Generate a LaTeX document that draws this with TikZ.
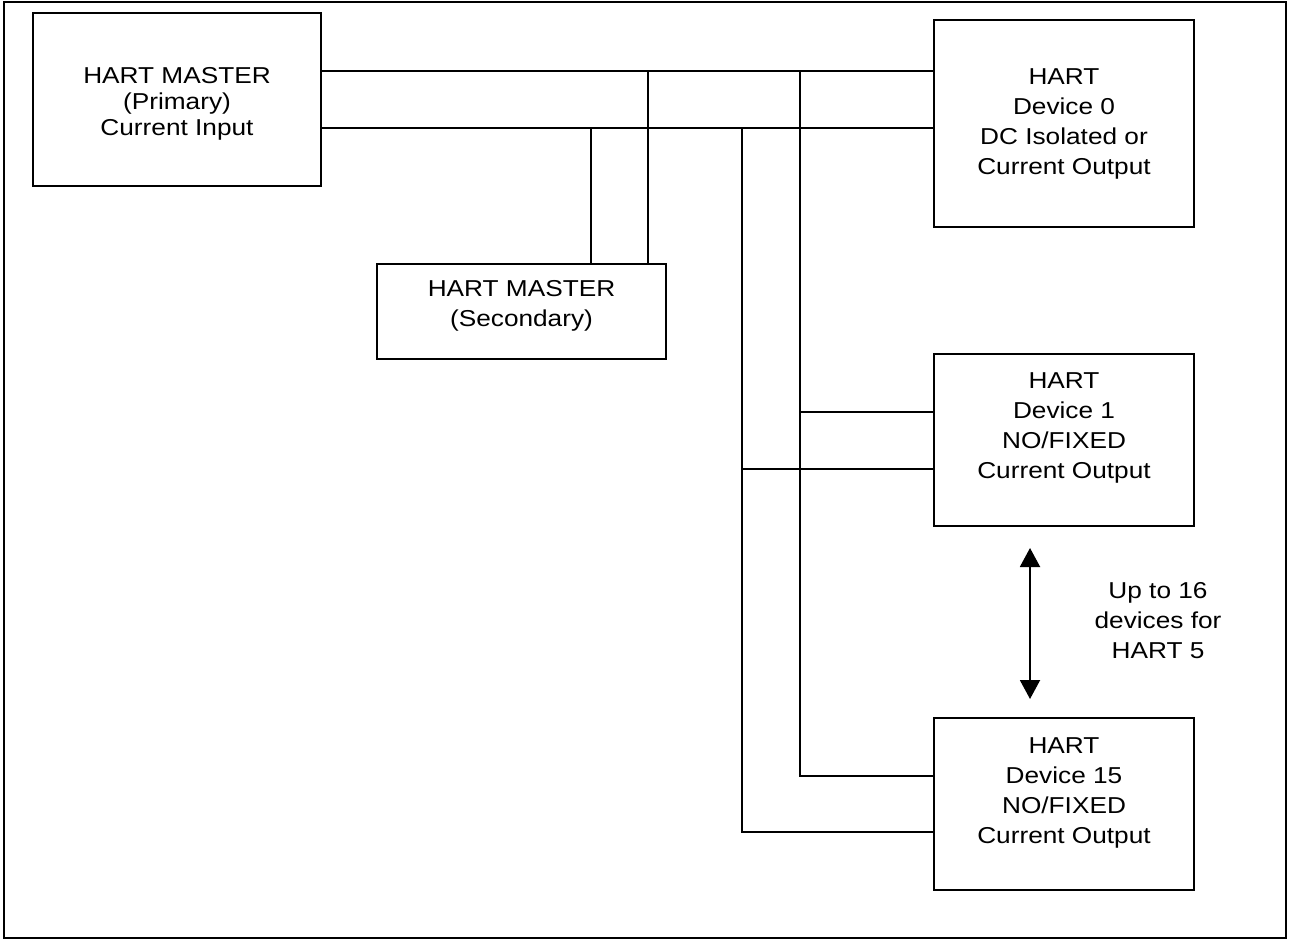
\documentclass[tikz,border=0pt]{standalone}
\usepackage{fontspec}
\setmainfont{Liberation Sans}[FakeStretch=1.14]
\usetikzlibrary{arrows.meta, positioning}

\begin{document}
\begin{tikzpicture}[x=0.5pt, y=-0.5pt, line width=1pt,
        box/.style = {draw, rectangle, inner sep=0pt},
        txt/.style = {align=center, inner sep=0pt, font=\fontsize{11.5}{15}\selectfont},
        updown/.style = {{Triangle[width=10pt,length=9.5pt]}-{Triangle[width=10pt,length=9.5pt]}}]
        \useasboundingbox (0,0) rectangle (1289,940);
        \draw (3.5,2) rectangle (1285.5,938);
        % masters
        \node[box, minimum width=144pt, minimum height=86.5pt] (pm) at (177,99.5) {};
        \node[txt, font=\fontsize{11.5}{13}\selectfont] (pmt) at ([yshift=-2pt]pm.center) {HART MASTER\\(Primary)\\Current Input};
        \node[box, minimum width=144.5pt, minimum height=47.5pt] (sec) at (521.5,311.5) {};
        \node[txt] (sect) [below=8pt of sec.north] {HART MASTER\\(Secondary)};
        % devices
        \node[box, txt, minimum width=130pt, minimum height=103.5pt] (d0) at (1064,123.5) {HART\\Device 0\\DC Isolated or\\Current Output};
        \node[box, minimum width=130pt, minimum height=86pt] (d1) at (1064,440) {};
        \node[txt] (d1t) [below=9.5pt of d1.north] {HART\\Device 1\\NO/FIXED\\Current Output};
        \node[box, minimum width=130pt, minimum height=86pt] (d15) at (1064,804) {};
        \node[txt] (d15t) [below=10pt of d15.north] {HART\\Device 15\\NO/FIXED\\Current Output};
        \node[txt] (note) at (1158,621) {Up to 16\\devices for\\HART 5};
        % loop wiring
        \coordinate (busA) at (0,71);
        \coordinate (busB) at (0,128);
        \coordinate (secA) at (648,71);
        \coordinate (secB) at (591,128);
        \coordinate (trkA) at (800,71);
        \coordinate (trkB) at (742,128);
        \coordinate (d1A) at ([yshift=14pt]d1.west);
        \coordinate (d1B) at ([yshift=-14.5pt]d1.west);
        \coordinate (d15A) at ([yshift=14pt]d15.west);
        \coordinate (d15B) at ([yshift=-14pt]d15.west);
        \draw (pm.east |- busA) -- (d0.west |- busA);
        \draw (pm.east |- busB) -- (d0.west |- busB);
        \draw (secA) -- (secA |- sec.north);
        \draw (secB) -- (secB |- sec.north);
        \draw (trkA) |- (d15A);
        \draw (trkB) |- (d15B);
        \draw (trkA |- d1A) -- (d1A);
        \draw (trkB |- d1B) -- (d1B);
        \draw[updown, shorten <=10.5pt, shorten >=9pt] ([xshift=-17pt]d1.south) -- ([xshift=-17pt]d15.north);
\end{tikzpicture}
\end{document}
